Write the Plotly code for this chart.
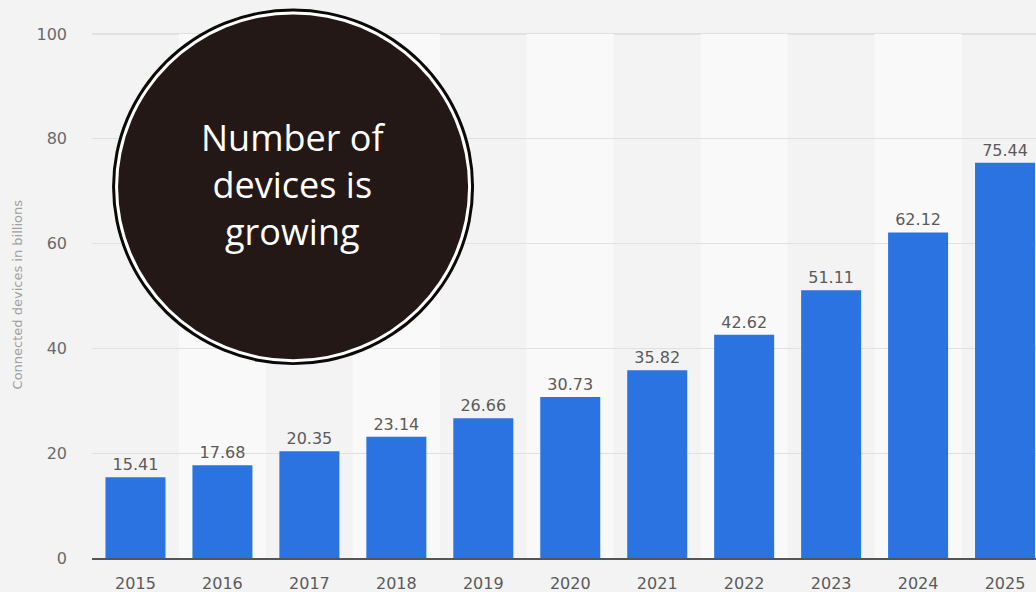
import plotly.graph_objects as go

# Connected IoT devices worldwide, in billions
years = ["2015", "2016", "2017", "2018", "2019", "2020",
         "2021", "2022", "2023", "2024", "2025"]
devices = [15.41, 17.68, 20.35, 23.14, 26.66, 30.73,
           35.82, 42.62, 51.11, 62.12, 75.44]
y_ticks = [0, 20, 40, 60, 80, 100]
callout_lines = ["Number of", "devices is", "growing"]
y_title = "Connected devices in billions"

FONT = "DejaVu Sans"
BAR_BLUE = "#2a73e0"
BG = "#f3f3f3"
BAND = "#f9f9f9"

fig = go.Figure()

fig.add_trace(go.Bar(
    x=years,
    y=devices,
    text=[f"{v:.2f}" for v in devices],
    textposition="outside",
    textfont=dict(family=FONT, size=16, color="#5a5a5a"),
    marker=dict(color=BAR_BLUE, line=dict(width=0)),
    cliponaxis=False,
    hoverinfo="x+y",
))

y_top = max(y_ticks)
shapes = []
# alternating column bands behind the bars
for i, _ in enumerate(years):
    if i % 2 == 1:
        shapes.append(dict(
            type="rect", xref="x", yref="y",
            x0=i - 0.5, x1=i + 0.5, y0=0, y1=y_top,
            fillcolor=BAND, line=dict(width=0), layer="below",
        ))
# top gridline, kept visible above the bands
shapes.append(dict(
    type="line", xref="paper", yref="y",
    x0=0, x1=1, y0=y_top, y1=y_top,
    line=dict(color="#dedede", width=1.5), layer="below",
))

# callout badge: black rim, white ring, dark fill
badge_x = 0.213
badge_y = 0.703
for r, col in [(181, "#0b0908"), (178, "#ffffff"), (175, "#231815")]:
    shapes.append(dict(
        type="circle", xref="paper", yref="paper",
        xsizemode="pixel", ysizemode="pixel",
        xanchor=badge_x, yanchor=badge_y,
        x0=-r, x1=r, y0=-r * 0.985, y1=r * 0.985,
        fillcolor=col, line=dict(width=0), layer="above",
    ))

fig.update_layout(
    width=1036,
    height=592,
    margin=dict(l=92, r=0, t=30, b=34),
    paper_bgcolor=BG,
    plot_bgcolor=BG,
    bargap=0.31,
    showlegend=False,
    shapes=shapes,
    annotations=[dict(
        xref="paper", yref="paper",
        x=badge_x, y=badge_y + 0.004,
        xanchor="center", yanchor="middle",
        text="<br>".join(callout_lines),
        showarrow=False,
        font=dict(family="Open Sans", size=36, color="#ffffff"),
        align="center",
    ), dict(
        xref="paper", yref="paper",
        x=-0.079, y=0.5,
        xanchor="center", yanchor="middle",
        text=y_title, textangle=-90, showarrow=False,
        font=dict(family=FONT, size=13, color="#a0a0a0"),
    )],
    xaxis=dict(
        type="category",
        range=[-0.5, 10.356],
        showgrid=False,
        showline=True,
        linecolor="#555555",
        linewidth=2,
        ticks="",
        ticklabelstandoff=10,
        tickfont=dict(family=FONT, size=16, color="#5a5a5a"),
        fixedrange=True,
    ),
    yaxis=dict(
        range=[0, 100.76],
        tickvals=y_ticks,
        showgrid=True,
        gridcolor="#e0e0e0",
        gridwidth=1,
        zeroline=False,
        showline=False,
        ticks="",
        ticklabelstandoff=24,
        tickfont=dict(family=FONT, size=16, color="#6a6a6a"),
        fixedrange=True,
    ),
)

fig.write_html("out.html")
